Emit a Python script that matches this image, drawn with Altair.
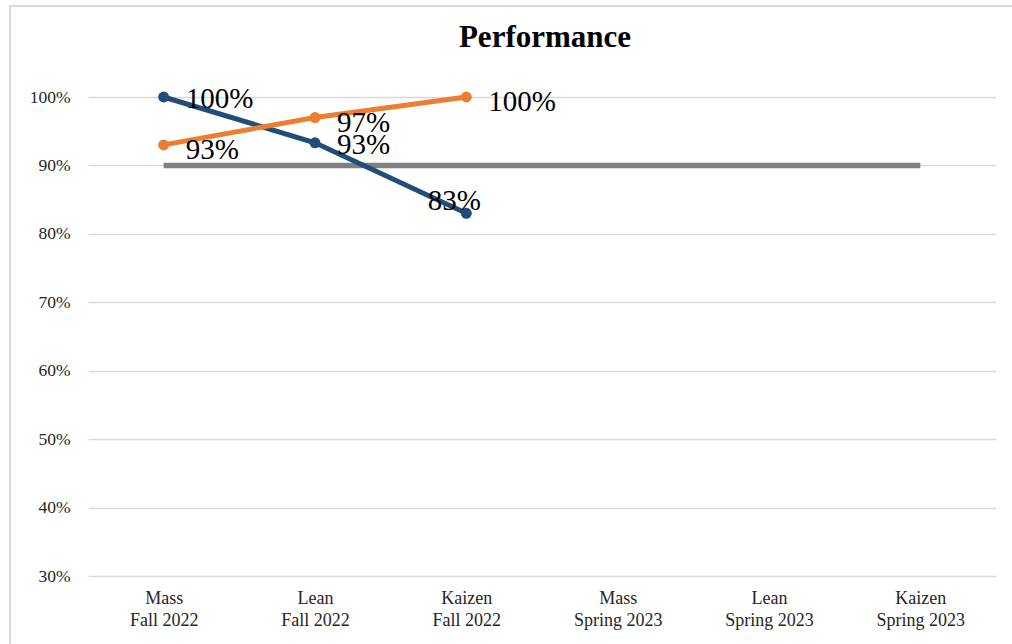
import altair as alt
import pandas as pd

# Course runs on the x axis ("method|term", split into two label lines)
categories = [
    "Mass|Fall 2022",
    "Lean|Fall 2022",
    "Kaizen|Fall 2022",
    "Mass|Spring 2023",
    "Lean|Spring 2023",
    "Kaizen|Spring 2023",
]

# Performance series (fractions, shown as percentages)
series_blue = [1.00, 0.933, 0.83]
series_orange = [0.93, 0.97, 1.00]
target = [0.90, 0.90, 0.90, 0.90, 0.90, 0.90]

y_ticks = [0.3, 0.4, 0.5, 0.6, 0.7, 0.8, 0.9, 1.0]

BLUE = "#1f4e79"
ORANGE = "#ed7d31"
GRAY = "#808080"
SERIF = "'Liberation Serif', 'Times New Roman', serif"

df_blue = pd.DataFrame({"cat": categories[: len(series_blue)], "v": series_blue})
df_orange = pd.DataFrame({"cat": categories[: len(series_orange)], "v": series_orange})
df_target = pd.DataFrame({"cat": categories, "v": target})
df_blank = pd.DataFrame({"k": [0]})


def x_enc():
    return alt.X(
        "cat:N",
        sort=categories,
        scale=alt.Scale(type="point", domain=categories, padding=0.5),
        axis=alt.Axis(
            title=None,
            labelExpr="split(datum.label, '|')",
            labelAngle=0,
            labelPadding=13,
            labelLineHeight=22,
            labelFontSize=18,
            grid=False,
        ),
    )


def y_enc():
    return alt.Y(
        "v:Q",
        scale=alt.Scale(domain=[0.3, 1.0], nice=False, zero=False),
        axis=alt.Axis(
            title=None,
            format=".0%",
            values=y_ticks,
            grid=True,
            labelPadding=18,
        ),
    )


# Outer frame of the chart
frame = (
    alt.Chart(df_blank)
    .mark_rect(fill=None, stroke="#d9d9d9", strokeWidth=2)
    .encode(
        x=alt.value(-78),
        y=alt.value(-91),
        x2=alt.value(1100),
        y2=alt.value(700),
    )
)

title = (
    alt.Chart(df_blank)
    .mark_text(
        text="Performance",
        font=SERIF,
        fontSize=31,
        fontWeight="bold",
        align="center",
        baseline="middle",
        color="#000000",
    )
    .encode(x=alt.value(457), y=alt.value(-59))
)

target_line = (
    alt.Chart(df_target)
    .mark_line(color=GRAY, strokeWidth=5.5)
    .encode(x=x_enc(), y=y_enc())
)

blue_line = (
    alt.Chart(df_blue)
    .mark_line(color=BLUE, strokeWidth=5)
    .encode(x=x_enc(), y=y_enc())
)
blue_pts = (
    alt.Chart(df_blue)
    .mark_circle(color=BLUE, size=120, opacity=1)
    .encode(x=x_enc(), y=y_enc())
)

orange_line = (
    alt.Chart(df_orange)
    .mark_line(color=ORANGE, strokeWidth=5)
    .encode(x=x_enc(), y=y_enc())
)
orange_pts = (
    alt.Chart(df_orange)
    .mark_circle(color=ORANGE, size=120, opacity=1)
    .encode(x=x_enc(), y=y_enc())
)

label_style = dict(font=SERIF, fontSize=29, color="#000000", baseline="middle")

blue_labels_right = (
    alt.Chart(df_blue)
    .transform_filter(alt.datum.cat != categories[2])
    .mark_text(align="left", dx=22, dy=2, **label_style)
    .encode(x=x_enc(), y=y_enc(), text=alt.Text("v:Q", format=".0%"))
)
blue_labels_above = (
    alt.Chart(df_blue)
    .transform_filter(alt.datum.cat == categories[2])
    .mark_text(align="center", dx=-12, dy=-12, **label_style)
    .encode(x=x_enc(), y=y_enc(), text=alt.Text("v:Q", format=".0%"))
)
orange_labels = (
    alt.Chart(df_orange)
    .mark_text(align="left", dx=22, dy=5, **label_style)
    .encode(x=x_enc(), y=y_enc(), text=alt.Text("v:Q", format=".0%"))
)

chart = (
    alt.layer(
        frame,
        title,
        target_line,
        blue_line,
        orange_line,
        blue_pts,
        orange_pts,
        blue_labels_right,
        blue_labels_above,
        orange_labels,
    )
    .properties(
        width=908,
        height=479,
        padding={"left": 88, "top": 97, "right": 16, "bottom": 68},
        autosize=alt.AutoSizeParams(type="none"),
        background="white",
    )
    .configure_view(stroke=None)
    .configure_axis(
        labelFont=SERIF,
        labelFontSize=17.5,
        labelColor="#262626",
        domain=False,
        ticks=False,
        gridColor="#d9d9d9",
        gridWidth=1.5,
    )
)

chart.save("out.html", embed_options={"renderer": "svg", "actions": False})
